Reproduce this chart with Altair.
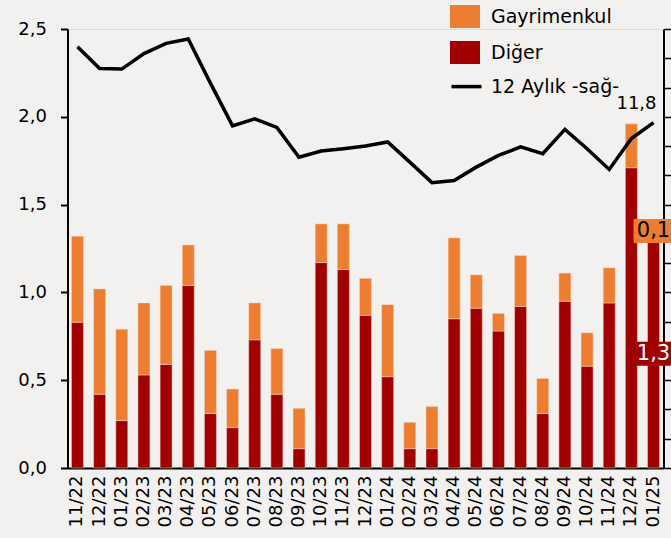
import altair as alt
import pandas as pd
import jinja2

cats = ["11/22", "12/22", "01/23", "02/23", "03/23", "04/23", "05/23", "06/23",
        "07/23", "08/23", "09/23", "10/23", "11/23", "12/23", "01/24", "02/24",
        "03/24", "04/24", "05/24", "06/24", "07/24", "08/24", "09/24", "10/24",
        "11/24", "12/24", "01/25"]
diger = [0.83, 0.42, 0.27, 0.53, 0.59, 1.04, 0.31, 0.23, 0.73, 0.42, 0.11, 1.17,
         1.13, 0.87, 0.52, 0.11, 0.11, 0.85, 0.91, 0.78, 0.92, 0.31, 0.95, 0.58,
         0.94, 1.71, 1.30]
gayrimenkul = [0.49, 0.60, 0.52, 0.41, 0.45, 0.23, 0.36, 0.22, 0.21, 0.26, 0.23, 0.22,
               0.26, 0.21, 0.41, 0.15, 0.24, 0.46, 0.19, 0.10, 0.29, 0.20, 0.16, 0.19,
               0.20, 0.25, 0.10]
annual = [14.39, 13.65, 13.63, 14.16, 14.51, 14.66, 13.15, 11.69, 11.93, 11.64, 10.62,
          10.83, 10.91, 11.00, 11.14, 10.45, 9.75, 9.82, 10.28, 10.68, 10.97, 10.74,
          11.57, 10.91, 10.20, 11.26, 11.80]

ORANGE = "#ED7D31"
DARKRED = "#A00000"
BG = "#F2F1EF"
FONT = "DejaVu Sans"


def tr(v):
    return f"{v:.1f}".replace(".", ",")


rows = []
for c, d, g in zip(cats, diger, gayrimenkul):
    rows.append({"cat": c, "series": "Diğer", "value": d, "ord": 0})
    rows.append({"cat": c, "series": "Gayrimenkul", "value": g, "ord": 1})
bars_df = pd.DataFrame(rows)

line_df = pd.DataFrame({"cat": cats, "val": annual, "series": "12 Aylık -sağ-"})
last_line = pd.DataFrame({"cat": [cats[-1]], "val": [annual[-1]], "lab": [tr(annual[-1])]})

box_df = pd.DataFrame({
    "cat": [cats[-1], cats[-1]],
    "mid": [diger[-1] + gayrimenkul[-1] / 2, diger[-1] / 2],
    "lab": [tr(gayrimenkul[-1]), tr(diger[-1])],
    "bg": [ORANGE, DARKRED],
    "fg": ["#000000", "#ffffff"],
})

x_enc = alt.X("cat:N", sort=cats, title=None,
              scale=alt.Scale(paddingInner=0.46, paddingOuter=0.18),
              axis=alt.Axis(labelAngle=270, labelAlign="right", labelBaseline="middle",
                            ticks=False, domainColor="black", domainWidth=2,
                            labelPadding=7, labelFontSize=18, labelColor="black",
                            labelFont=FONT))

left_scale = alt.Scale(domain=[0, 2.5], nice=False, zero=True)
left_axis = alt.Axis(values=[0, 0.5, 1.0, 1.5, 2.0, 2.5], grid=False,
                     labelExpr="replace(format(datum.value, '.1f'), '.', ',')",
                     domainColor="black", domainWidth=2, tickColor="black",
                     tickWidth=2, tickSize=7, labelPadding=14, labelFontSize=18,
                     labelColor="black", labelFont=FONT, title=None)

right_scale = alt.Scale(domain=[0, 15], nice=False)
right_axis = alt.Axis(orient="right", values=list(range(0, 16)), grid=False,
                      labels=False, domainColor="black", domainWidth=2,
                      tickColor="black", tickWidth=1.5, tickSize=9, title=None)

bars = alt.Chart(bars_df).mark_bar(stroke="#f6d7c8", strokeWidth=0.6, strokeOpacity=0.8).encode(
    x=x_enc,
    y=alt.Y("value:Q", stack="zero", scale=left_scale, axis=left_axis),
    color=alt.Color("series:N",
                    scale=alt.Scale(domain=["Gayrimenkul", "Diğer"], range=[ORANGE, DARKRED]),
                    legend=alt.Legend(title=None, orient="none", legendX=382.5, legendY=-27.5,
                                      symbolType="M-1,-0.767L1,-0.767L1,0.767L-1,0.767Z",
                                      symbolSize=900, symbolStrokeWidth=0,
                                      symbolOpacity=1, labelFontSize=19, labelFont=FONT,
                                      labelColor="black", labelOffset=11, rowPadding=9,
                                      padding=0)),
    order=alt.Order("ord:Q"),
)

boxes = alt.Chart(box_df).mark_point(
    shape="M-1,-0.6L1,-0.6L1,0.6L-1,0.6Z", filled=True, size=1600, opacity=1,
    strokeWidth=0).encode(
    x=alt.X("cat:N", sort=cats),
    y=alt.Y("mid:Q", scale=left_scale, axis=left_axis),
    color=alt.Color("bg:N", scale=None),
)

box_text = alt.Chart(box_df).mark_text(fontSize=21, font=FONT, baseline="middle",
                                       align="center").encode(
    x=alt.X("cat:N", sort=cats),
    y=alt.Y("mid:Q", scale=left_scale, axis=left_axis),
    text="lab:N",
    color=alt.Color("fg:N", scale=None),
)

line = alt.Chart(line_df).mark_line(strokeWidth=3.5, color="black").encode(
    x=alt.X("cat:N", sort=cats),
    y=alt.Y("val:Q", scale=right_scale, axis=right_axis),
    stroke=alt.Stroke("series:N", scale=alt.Scale(range=["black"]),
                      legend=alt.Legend(title=None, orient="none", legendX=382, legendY=40.6,
                                        symbolType="stroke", symbolSize=900,
                                        symbolStrokeWidth=3.5, labelFontSize=19,
                                        labelFont=FONT, labelColor="black", labelOffset=7.5,
                                        padding=0)),
)

line_label = alt.Chart(last_line).mark_text(fontSize=18, font=FONT, align="right",
                                            baseline="alphabetic", dx=3, dy=-14,
                                            color="black").encode(
    x=alt.X("cat:N", sort=cats),
    y=alt.Y("val:Q", scale=right_scale, axis=right_axis),
    text="lab:N",
)

left = alt.layer(bars, boxes, box_text)
right = alt.layer(line, line_label)

chart = alt.layer(left, right).resolve_scale(y="independent").properties(
    width=596, height=439,
    autosize=alt.AutoSizeParams(type="none"),
    padding={"left": 67.5, "top": 29, "right": 7.5, "bottom": 70},
    background=BG,
).configure_view(stroke=None).configure(font=FONT)

PAGE = jinja2.Template("""<!DOCTYPE html>
<html>
<head>
<meta charset="utf-8">
<style>
html, body { margin: 0; padding: 0; background: """ + BG + """; overflow: hidden; }
#{{ output_div }}.vega-embed { display: block; }
</style>
<script type="text/javascript" src="{{ base_url }}/vega@{{ vega_version }}"></script>
<script type="text/javascript" src="{{ base_url }}/vega-lite@{{ vegalite_version }}"></script>
<script type="text/javascript" src="{{ base_url }}/vega-embed@{{ vegaembed_version }}"></script>
</head>
<body>
<div id="{{ output_div }}"></div>
<script type="text/javascript">
  (function(vegaEmbed) {
    var spec = {{ spec }};
    var embedOpt = {{ embed_options }};
    vegaEmbed("#{{ output_div }}", spec, embedOpt).catch(function(err) {
      document.getElementById("{{ output_div }}").innerHTML = "<pre>" + err + "</pre>";
    });
  })(vegaEmbed);
</script>
</body>
</html>
""")

chart.save("out.html", embed_options={"renderer": "svg", "actions": False}, template=PAGE)
